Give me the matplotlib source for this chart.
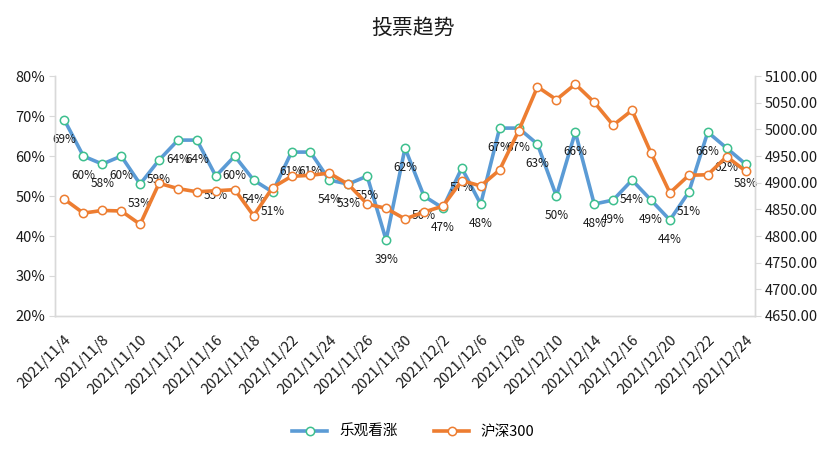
import numpy as np
import matplotlib
matplotlib.use('Agg')
import matplotlib.pyplot as plt

plt.rcParams['font.family'] = ['Noto Sans CJK SC', 'DejaVu Sans']

# trading days, 2021/11/4 .. 2021/12/24
dates = ['2021/11/4', '2021/11/5', '2021/11/8', '2021/11/9', '2021/11/10', '2021/11/11',
         '2021/11/12', '2021/11/15', '2021/11/16', '2021/11/17', '2021/11/18', '2021/11/19',
         '2021/11/22', '2021/11/23', '2021/11/24', '2021/11/25', '2021/11/26', '2021/11/29',
         '2021/11/30', '2021/12/1', '2021/12/2', '2021/12/3', '2021/12/6', '2021/12/7',
         '2021/12/8', '2021/12/9', '2021/12/10', '2021/12/13', '2021/12/14', '2021/12/15',
         '2021/12/16', '2021/12/17', '2021/12/20', '2021/12/21', '2021/12/22', '2021/12/23',
         '2021/12/24']

# 乐观看涨 (%)
bullish = [69, 60, 58, 60, 53, 59, 64, 64, 55, 60, 54, 51, 61, 61, 54, 53, 55, 39, 62,
           50, 47, 57, 48, 67, 67, 63, 50, 66, 48, 49, 54, 49, 44, 51, 66, 62, 58]

# 沪深300 close
hs300 = [4869, 4843, 4848, 4847, 4822, 4899, 4889, 4883, 4885, 4887, 4838, 4891, 4912,
         4914, 4918, 4897, 4860, 4852, 4832, 4845, 4856, 4904, 4894, 4924, 4997, 5080,
         5056, 5085, 5051, 5008, 5036, 4956, 4881, 4914, 4915, 4949, 4922]

blue = '#5B9BD5'
blue_edge = '#3DBF8E'
orange = '#ED7D31'
axis_col = '#D9D9D9'
txt_col = '#1A1A1A'

x = np.arange(len(dates))

f = plt.figure(figsize=(8.27, 4.73), dpi=100)
ax = f.add_axes([0.0665, 0.332, 0.8465, 0.507])
ax2 = ax.twinx()

l1, = ax.plot(x, bullish, color=blue, lw=2.6, marker='o', ms=6,
              mfc='white', mec=blue_edge, mew=1.1, label='乐观看涨', zorder=3)
l2, = ax2.plot(x, hs300, color=orange, lw=2.6, marker='o', ms=6,
               mfc='white', mec=orange, mew=1.1, label='沪深300', zorder=3)

# data labels under the blue points
for xi, v in zip(x, bullish):
    ax.annotate('{0:d}%'.format(v), (xi, v), xytext=(0, -14), textcoords='offset points',
                ha='center', va='center', fontsize=8.5, color=txt_col, zorder=5)

ax.set_xlim(-0.5, len(dates) - 0.5)
ax.set_ylim(20, 80)
ax.set_yticks(np.arange(20, 81, 10))
ax.set_yticklabels(['{0:d}%'.format(t) for t in range(20, 81, 10)])
ax2.set_ylim(4650, 5100)
ax2.set_yticks(np.arange(4650, 5101, 50))
ax2.set_yticklabels(['{0:.2f}'.format(t) for t in np.arange(4650, 5101, 50)])

ax.set_xticks(x[::2])
ax.set_xticklabels(dates[::2], rotation=45, ha='right', rotation_mode='anchor',
                   fontsize=10.5, color=txt_col)

for a in (ax, ax2):
    a.spines['top'].set_visible(False)
    for s in ('left', 'right', 'bottom'):
        a.spines[s].set_color(axis_col)
        a.spines[s].set_linewidth(1.0)
ax.tick_params(axis='x', length=0, pad=12)
ax.tick_params(axis='y', length=4, color=axis_col, labelsize=10.5, labelcolor=txt_col, pad=3)
ax2.tick_params(axis='y', length=4, color=axis_col, labelsize=10.5, labelcolor=txt_col, pad=3)

f.suptitle('投票趋势', x=0.5, y=0.965, fontsize=15, color=txt_col)

f.legend(handles=[l1, l2], loc='center', bbox_to_anchor=(0.5, 0.087), ncol=2,
         frameon=False, fontsize=10.5, handlelength=2.4, columnspacing=2.5,
         numpoints=1)

f.savefig('out.png', dpi=100)
